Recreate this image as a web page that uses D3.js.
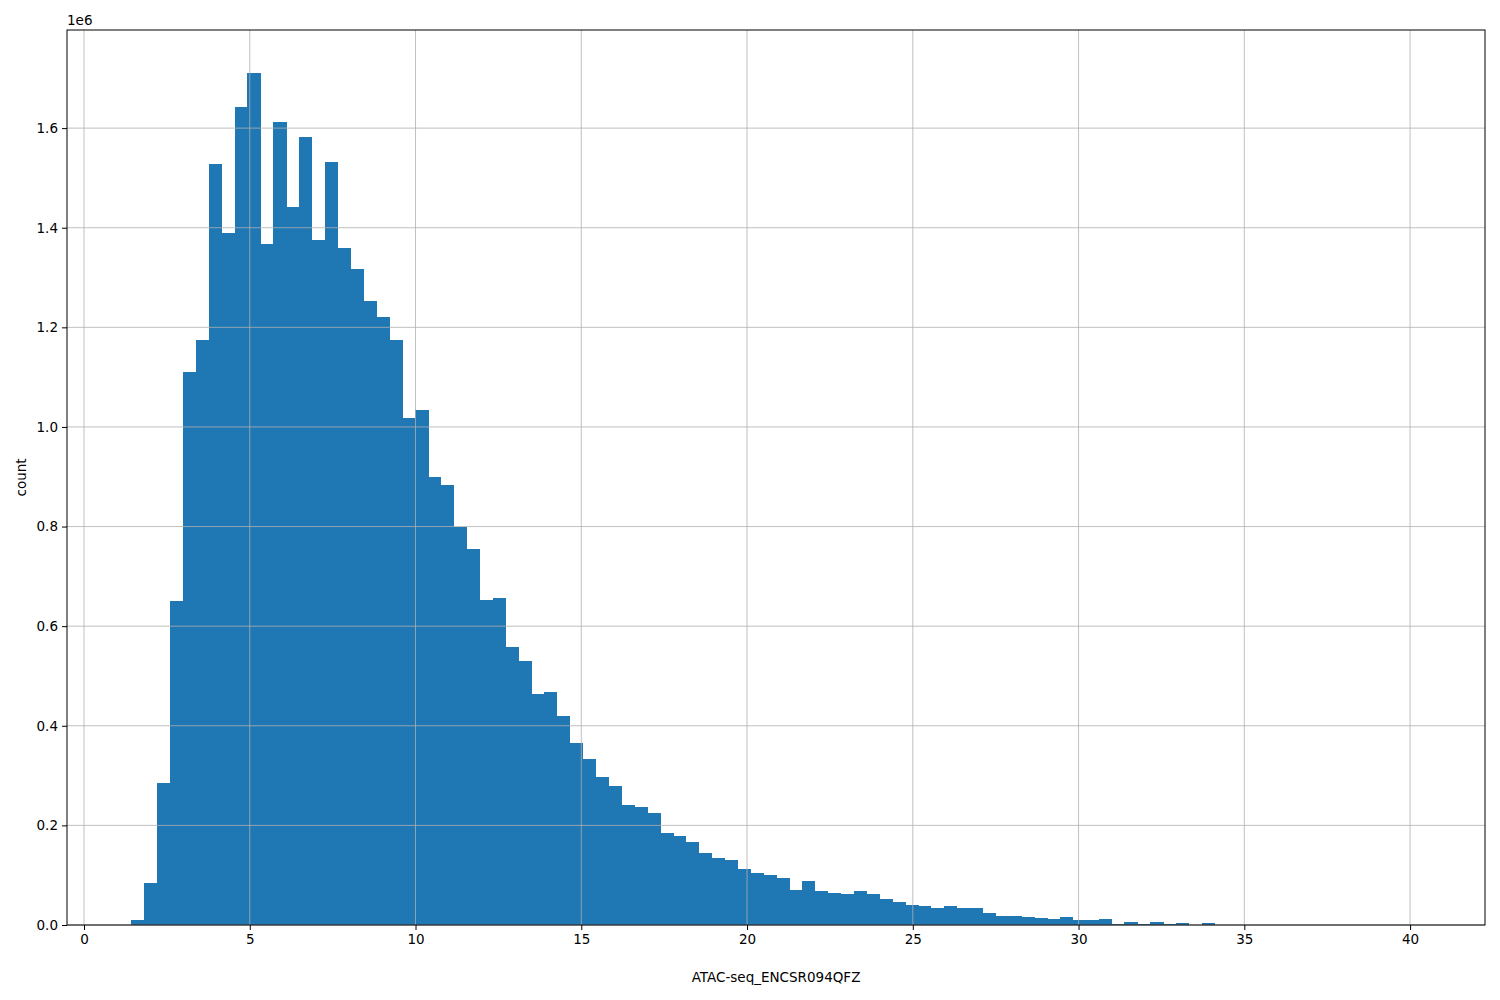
<!DOCTYPE html><html><head><script src="https://cdn.jsdelivr.net/npm/d3@7"></script>
<style>body{margin:0;background:#fff}text{font-family:"DejaVu Sans";font-size:13.5px;fill:#000}</style></head><body><svg id="c" width="1500" height="1000"></svg><script>
const binStart=1.43, binWidth=0.389;
const counts=[0.01,0.085,0.285,0.65,1.11,1.175,1.527,1.39,1.642,1.711,1.367,1.612,1.442,1.582,1.376,1.532,1.36,1.317,1.253,1.221,1.175,1.018,1.035,0.9,0.884,0.8,0.755,0.652,0.657,0.558,0.53,0.464,0.468,0.42,0.366,0.333,0.297,0.279,0.24,0.237,0.225,0.185,0.178,0.167,0.145,0.135,0.13,0.112,0.105,0.1,0.094,0.07,0.088,0.068,0.064,0.062,0.068,0.062,0.052,0.046,0.04,0.038,0.034,0.038,0.034,0.034,0.024,0.018,0.018,0.016,0.014,0.012,0.016,0.01,0.01,0.012,0.003,0.006,0.002,0.006,0.003,0.004,0.001,0.004,0.0005,0.0003,0.0002,0.0001,0.0001,0,0.0001,0,0,0,0,0,0,0,0,0.0001];
const xTicks=[0,5,10,15,20,25,30,35,40];
const yTicks=[0,0.2,0.4,0.6,0.8,1.0,1.2,1.4,1.6];
const svg=d3.select("#c");
const L=67,R=1485,T=30,B=925;
const x=d3.scaleLinear().domain([-0.513,42.26]).range([L,R]);
const y=d3.scaleLinear().domain([0,1.797]).range([B,T]);
svg.selectAll("rect.b").data(counts).join("rect").attr("fill","#1f77b4").attr("shape-rendering","crispEdges")
 .attr("x",(d,i)=>x(binStart+i*binWidth)).attr("width",(d,i)=>x(binStart+(i+1)*binWidth)-x(binStart+i*binWidth)+0.5)
 .attr("y",d=>y(d)).attr("height",d=>B-y(d));
const g=svg.append("g");
g.selectAll("line.gx").data(xTicks).join("line").attr("x1",d=>x(d)).attr("x2",d=>x(d)).attr("y1",T).attr("y2",B).attr("stroke","#b0b0b0").attr("stroke-width",0.8);
g.selectAll("line.gy").data(yTicks).join("line").attr("y1",d=>y(d)).attr("y2",d=>y(d)).attr("x1",L).attr("x2",R).attr("stroke","#b0b0b0").attr("stroke-width",0.8);
svg.append("rect").attr("x",L).attr("y",T).attr("width",R-L).attr("height",B-T).attr("fill","none").attr("stroke","#000").attr("stroke-width",1);
const xa=svg.append("g").attr("transform",`translate(0,${B})`).call(d3.axisBottom(x).tickValues(xTicks).tickFormat(d3.format("d")).tickSize(5).tickPadding(4));
const ya=svg.append("g").attr("transform",`translate(${L},0)`).call(d3.axisLeft(y).tickValues(yTicks).tickFormat(d3.format(".1f")).tickSize(5).tickPadding(4));
[xa,ya].forEach(a=>{a.select(".domain").remove();a.selectAll("text").style("font-family","DejaVu Sans").style("font-size","13.5px");});
svg.append("text").attr("x",67).attr("y",25).text("1e6");
svg.append("text").attr("x",(L+R)/2).attr("y",982).attr("text-anchor","middle").text("ATAC-seq_ENCSR094QFZ");
svg.append("text").attr("transform",`translate(26,${(T+B)/2}) rotate(-90)`).attr("text-anchor","middle").text("count");
</script></body></html>
